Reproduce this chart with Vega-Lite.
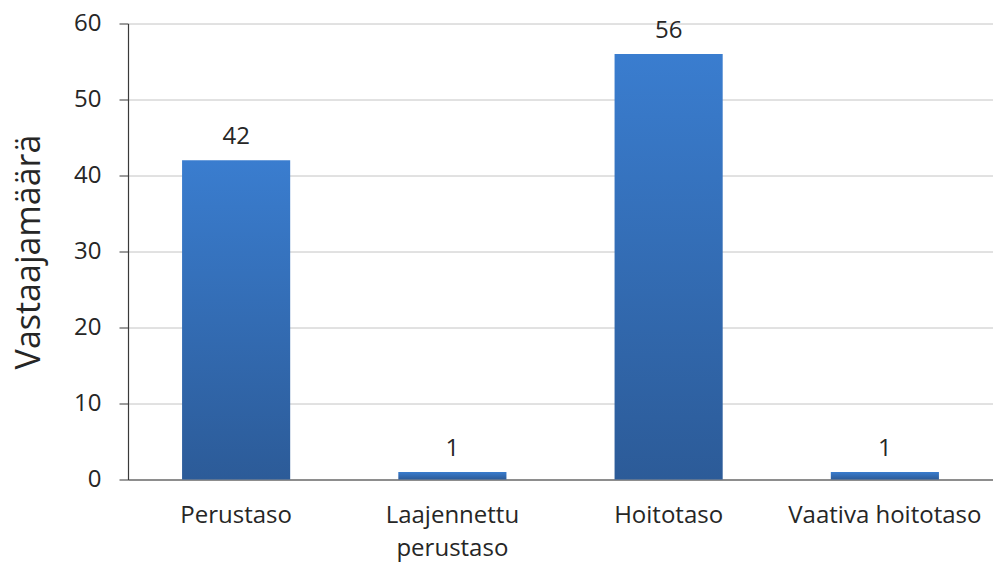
{
  "$schema": "https://vega.github.io/schema/vega-lite/v6.json",
  "width": 865,
  "height": 456,
  "autosize": {"type": "none"},
  "padding": {"left": 128, "top": 23.5, "right": 0, "bottom": 83.5},
  "background": "white",
  "config": {
    "view": {"stroke": null},
    "font": "Open Sans",
    "axis": {"labelFont": "Open Sans", "titleFont": "Open Sans", "labelColor": "#262626", "titleColor": "#262626"}
  },
  "data": {
    "values": [
      {"taso": "Perustaso", "maara": 42},
      {"taso": "Laajennettu perustaso", "maara": 1},
      {"taso": "Hoitotaso", "maara": 56},
      {"taso": "Vaativa hoitotaso", "maara": 1}
    ]
  },
  "encoding": {
    "x": {
      "field": "taso",
      "type": "nominal",
      "sort": null,
      "scale": {"paddingInner": 0.5, "paddingOuter": 0.25},
      "axis": {
        "title": null,
        "labelAngle": 0,
        "labelFontSize": 24,
        "labelPadding": 24,
        "labelLineHeight": 33,
        "labelLimit": 0,
        "labelOverlap": false,
        "labelExpr": "datum.label == 'Laajennettu perustaso' ? ['Laajennettu', 'perustaso'] : datum.label",
        "ticks": false,
        "domainColor": "#3a3a3a",
        "domainWidth": 1.2,
        "grid": false
      }
    },
    "y": {
      "field": "maara",
      "type": "quantitative",
      "scale": {"domain": [0, 60], "nice": false},
      "axis": {
        "title": "Vastaajamäärä",
        "titleFontSize": 34,
        "titleFontWeight": "normal",
        "titleAngle": -90,
        "titleX": -89,
        "titleY": 228,
        "titleAlign": "center",
        "titleBaseline": "alphabetic",
        "values": [0, 10, 20, 30, 40, 50, 60],
        "labelFontSize": 24,
        "labelPadding": 18,
        "tickSize": 9,
        "tickColor": "#3a3a3a",
        "domainColor": "#3a3a3a",
        "domainWidth": 1.2,
        "grid": true,
        "gridColor": "#c4c4c4",
        "gridWidth": 1
      }
    }
  },
  "layer": [
    {
      "mark": {
        "type": "bar",
        "color": {
          "gradient": "linear",
          "x1": 0, "y1": 0, "x2": 0, "y2": 1,
          "stops": [
            {"offset": 0, "color": "#3a7dcf"},
            {"offset": 1, "color": "#2c5b98"}
          ]
        }
      }
    },
    {
      "mark": {"type": "text", "baseline": "alphabetic", "dy": -16, "fontSize": 24, "color": "#262626", "font": "Open Sans"},
      "encoding": {"text": {"field": "maara", "type": "quantitative"}}
    }
  ]
}
